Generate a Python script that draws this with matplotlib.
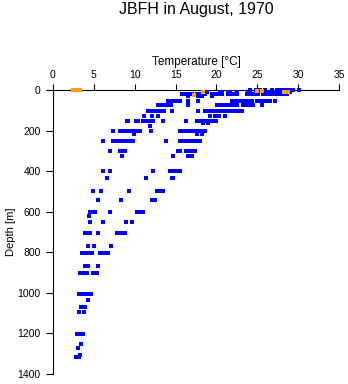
import numpy as np
import matplotlib
matplotlib.use("Agg")
import matplotlib.pyplot as plt

plt.rcParams['font.family'] = ['Liberation Sans', 'DejaVu Sans']

title = "JBFH in August, 1970"
xlabel = "Temperature [°C]"
ylabel = "Depth [m]"
xticks = [0, 5, 10, 15, 20, 25, 30, 35]
yticks = [0, 200, 400, 600, 800, 1000, 1200, 1400]

# blue observations, grouped by sampling depth (m) -> temperatures (degC)
blue_depths = [0, 8, 20, 32, 52, 76, 102, 127, 152, 162, 177, 202, 217,
               251, 300, 325, 400, 435, 500, 542, 600, 620, 652, 705, 768,
               805, 866, 902, 1005, 1035, 1068, 1095, 1203, 1252, 1272,
               1306, 1316]
blue_temps = [
    [24.1, 24.8, 25.3, 25.9, 26.8, 27.4, 27.8, 28.2, 28.6, 29.0, 29.4, 30.1],
    [18.8, 20.4, 20.7, 21.4, 21.7, 22.5, 23.9, 26.3, 26.7, 27.1, 27.5, 27.9,
     28.3, 28.7, 29.0],
    [15.8, 16.2, 16.5, 17.0, 17.6, 18.0, 18.4, 18.6, 19.5, 19.6, 20.1, 20.5,
     20.7, 21.4, 21.8, 22.2, 22.5, 23.7, 24.1, 24.4, 24.8, 25.1, 25.7, 26.2,
     26.6, 27.0, 27.4, 27.8, 28.2, 28.6],
    [16.5, 17.7, 18.2, 19.5],
    [14.1, 14.4, 14.7, 15.0, 15.5, 16.5, 17.7, 21.9, 22.3, 22.7, 23.1, 23.5,
     23.9, 24.4, 25.0, 25.4, 25.8, 26.2, 26.6, 27.2],
    [12.8, 13.1, 13.5, 14.0, 14.4, 16.5, 20.1, 20.5, 20.9, 21.3, 21.7, 22.1,
     22.5, 23.3, 23.7, 24.1, 24.5, 25.6],
    [11.6, 12.0, 12.4, 12.8, 13.2, 13.6, 14.6, 17.7, 18.6, 19.0, 19.4, 19.8,
     20.2, 20.6, 21.0, 21.4, 21.7, 22.1, 22.5, 22.9, 23.1],
    [11.1, 12.1, 12.8, 19.2, 19.8, 20.3, 21.0],
    [9.1, 9.2, 10.2, 10.4, 11.0, 11.4, 11.8, 12.2, 13.5, 16.3, 17.6, 18.0,
     18.4, 18.8, 19.2, 19.6, 20.0],
    [18.4, 19.0],
    [11.9],
    [7.3, 8.2, 8.6, 9.0, 9.4, 9.8, 10.2, 10.6, 12.0, 15.5, 15.8, 16.2, 16.6,
     17.0, 17.4, 17.8, 18.2, 18.6],
    [9.9, 17.6, 18.2],
    [6.1, 7.3, 7.7, 8.1, 8.5, 8.9, 9.3, 9.8, 13.8, 15.5, 16.0, 16.4, 16.8,
     17.2, 17.6, 18.0],
    [7.0, 8.2, 8.5, 8.8, 15.3, 15.5, 16.3, 16.7, 17.0, 17.4],
    [8.4, 14.7, 16.5, 17.0],
    [6.1, 7.0, 12.2, 14.3, 14.7, 15.1, 15.5],
    [6.6, 11.4, 14.6, 14.7],
    [4.9, 5.9, 9.3, 12.7, 13.1, 13.5],
    [5.5, 8.3, 12.1, 12.5],
    [4.5, 4.8, 5.1, 7.0, 10.3, 10.6, 11.0],
    [4.4],
    [4.5, 6.1, 8.9, 9.7],
    [3.9, 4.2, 4.5, 5.5, 7.8, 8.2, 8.5, 8.8],
    [4.3, 5.0, 7.1],
    [3.5, 3.8, 4.1, 4.3, 4.8, 5.8, 6.1, 6.4, 6.7],
    [3.9, 4.3, 5.5],
    [3.3, 3.6, 3.9, 4.1, 4.9, 5.4],
    [3.2, 3.5, 3.8, 4.1, 4.4, 4.6],
    [4.3],
    [3.4, 3.9],
    [3.2, 3.8],
    [2.9, 3.2, 3.5, 3.7],
    [3.4],
    [3.1],
    [3.3],
    [2.8, 3.1, 3.2],
]

# orange observations
orange_depth = [0, 0, 0, 5, 5, 8, 8, 8, 23]
orange_temp = [2.5, 2.9, 3.3, 25.0, 25.6, 18.4, 28.3, 28.8, 17.3]

bx, by = [], []
for d, temps in zip(blue_depths, blue_temps):
    for t in temps:
        bx.append(t)
        by.append(d)

fig = plt.figure(figsize=(3.48, 3.84), dpi=100)
ax = fig.add_axes([53 / 348, 10 / 384, 286 / 348, 284 / 384])

ax.scatter(bx, by, s=6, marker='s', color='#0000ff', linewidths=0,
           zorder=3, clip_on=False)
ax.scatter(orange_temp, orange_depth, s=8, marker='s', color='#ffa500',
           linewidths=0, zorder=4, clip_on=False)

ax.set_xlim(0, 35)
ax.set_ylim(1400, 0)
ax.set_xticks(xticks)
ax.set_yticks(yticks)
ax.xaxis.tick_top()
ax.xaxis.set_label_position('top')
ax.spines['right'].set_visible(False)
ax.spines['bottom'].set_visible(False)
ax.tick_params(axis='both', direction='out', length=4, width=0.8,
               labelsize=7.5, pad=3)
ax.tick_params(axis='y', length=5, pad=4)
ax.set_xlabel(xlabel, fontsize=8.5, labelpad=4)
ax.set_ylabel(ylabel, fontsize=8)
ax.yaxis.set_label_coords(-0.13, 0.5)
fig.suptitle(title, fontsize=11.5, x=196 / 348, y=0.995)

fig.savefig("out.png", dpi=100)
